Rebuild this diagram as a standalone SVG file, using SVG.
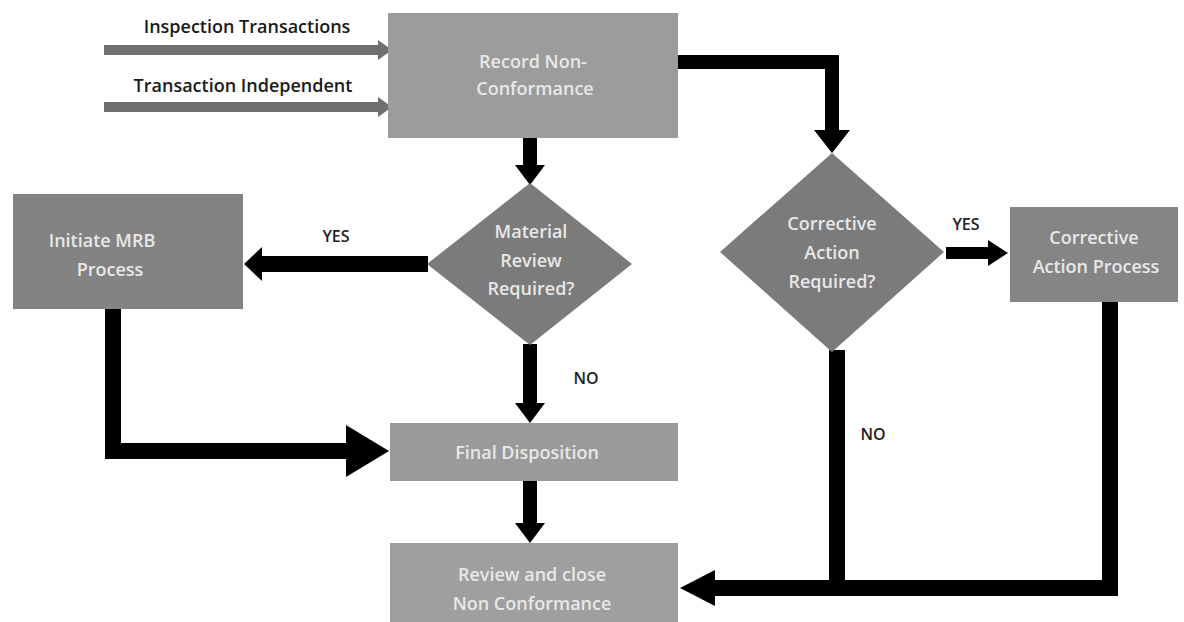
<svg xmlns="http://www.w3.org/2000/svg" width="1184" height="622" viewBox="0 0 1184 622">
<style>
.lbl{font-family:"Open Sans","Liberation Sans",sans-serif;font-size:16px;font-weight:600;fill:#222;text-anchor:middle}
.in{font-family:"Open Sans","Liberation Sans",sans-serif;font-size:18px;fill:#1a1a1a;text-anchor:middle;font-weight:600}
.nt{font-family:"Open Sans","Liberation Sans",sans-serif;font-size:18px;fill:#e8e8e8;text-anchor:middle;font-weight:600}
.blk{fill:none;stroke:#000;stroke-linejoin:miter}
.hd{fill:#000}
.gr{stroke:#707070;stroke-width:10}
.ghd{fill:#707070}
</style>
<rect width="1184" height="622" fill="#fff"/>
<g id="connectors">
  <line class="gr" x1="104" y1="50" x2="380" y2="50"/>
  <polygon class="ghd" points="378,40 392,50 378,60"/>
  <line class="gr" x1="104" y1="107" x2="380" y2="107"/>
  <polygon class="ghd" points="378,97 392,107 378,117"/>
  <line class="blk" stroke-width="14" x1="530" y1="138" x2="530" y2="167"/>
  <polygon class="hd" points="515,165 545,165 530,185"/>
  <path class="blk" stroke-width="14" d="M678,62 H832 V132"/>
  <polygon class="hd" points="814,130 850,130 832,153"/>
  <line class="blk" stroke-width="16" x1="428" y1="264" x2="260" y2="264"/>
  <polygon class="hd" points="262,247 262,281 244,264"/>
  <line class="blk" stroke-width="14" x1="530" y1="344" x2="530" y2="405"/>
  <polygon class="hd" points="515,403 545,403 530,423"/>
  <path class="blk" stroke-width="16" d="M113,309 V451 H348"/>
  <polygon class="hd" points="346,425 346,477 389,451"/>
  <line class="blk" stroke-width="14" x1="530" y1="481" x2="530" y2="525"/>
  <polygon class="hd" points="515,523 545,523 530,543"/>
  <line class="blk" stroke-width="12" x1="946" y1="253" x2="990" y2="253"/>
  <polygon class="hd" points="988,240 988,266 1008,253"/>
  <path class="blk" stroke-width="16" d="M837,350 V588"/>
  <path class="blk" stroke-width="16" d="M1110,302 V588 H712"/>
  <polygon class="hd" points="715,570 715,606 680,588"/>
  <text class="in" x="247" y="33">Inspection Transactions</text>
  <text class="in" x="243" y="92">Transaction Independent</text>
  <text class="lbl" x="336" y="242">YES</text>
  <text class="lbl" x="586" y="384">NO</text>
  <text class="lbl" x="966" y="230">YES</text>
  <text class="lbl" x="873" y="440">NO</text>
</g>
<g id="record">
  <rect x="388" y="13" width="290" height="125" fill="#9c9c9c"/>
  <text class="nt" x="533" y="68">Record Non-</text>
  <text class="nt" x="535" y="95">Conformance</text>
</g>
<g id="material">
  <polygon points="530,183 632,264 530,345 427,264" fill="#7b7b7b"/>
  <text class="nt" x="531" y="238">Material</text>
  <text class="nt" x="531" y="267">Review</text>
  <text class="nt" x="531" y="295">Required?</text>
</g>
<g id="mrb">
  <rect x="13" y="194" width="230" height="115" fill="#838383"/>
  <text class="nt" x="102" y="247">Initiate MRB</text>
  <text class="nt" x="110" y="276">Process</text>
</g>
<g id="corrective-q">
  <polygon points="832,153 944,252 832,352 720,252" fill="#7b7b7b"/>
  <text class="nt" x="832" y="230">Corrective</text>
  <text class="nt" x="832" y="259">Action</text>
  <text class="nt" x="832" y="288">Required?</text>
</g>
<g id="corrective-p">
  <rect x="1010" y="207" width="168" height="95" fill="#858585"/>
  <text class="nt" x="1094" y="244">Corrective</text>
  <text class="nt" x="1096" y="273">Action Process</text>
</g>
<g id="final">
  <rect x="390" y="423" width="288" height="58" fill="#9a9a9a"/>
  <text class="nt" x="527" y="459">Final Disposition</text>
</g>
<g id="review">
  <rect x="390" y="543" width="288" height="79" fill="#9f9f9f"/>
  <text class="nt" x="532" y="581">Review and close</text>
  <text class="nt" x="532" y="610">Non Conformance</text>
</g>
</svg>
